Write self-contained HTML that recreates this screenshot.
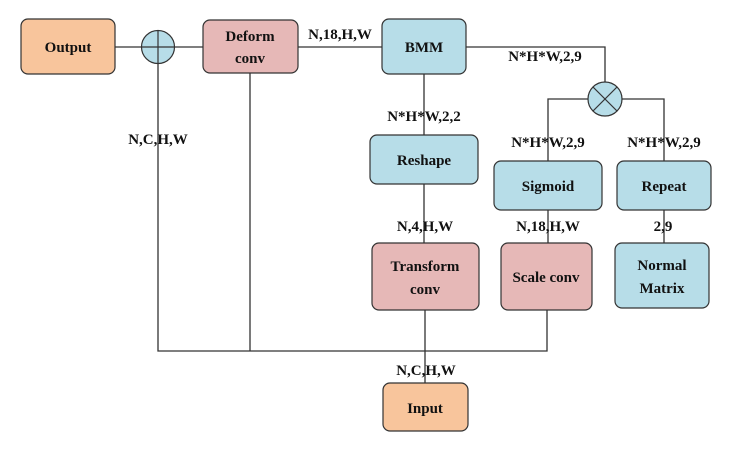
<!DOCTYPE html>
<html><head><style>body{margin:0;background:#fff}svg{display:block}text{font-family:"Liberation Serif",serif;font-weight:bold;font-size:15px;fill:#111}</style></head><body>
<svg width="741" height="459" xmlns="http://www.w3.org/2000/svg">
<g stroke="#333" stroke-width="1.3" fill="none">
<line x1="115" y1="47" x2="203" y2="47"/>
<line x1="298" y1="47" x2="382" y2="47"/>
<polyline points="466,47 605,47 605,82"/>
<polyline points="588,99 548,99 548,161"/>
<polyline points="622,99 664,99 664,161"/>
<line x1="548" y1="210" x2="548" y2="243"/>
<line x1="664" y1="210" x2="664" y2="243"/>
<line x1="424" y1="74" x2="424" y2="135"/>
<line x1="424" y1="184" x2="424" y2="243"/>
<line x1="425" y1="310" x2="425" y2="383"/>
<polyline points="158,63 158,351 547,351 547,310"/>
<line x1="250" y1="73" x2="250" y2="351"/>
</g>
<g stroke="#333" stroke-width="1.2">
<rect x="21" y="19" width="94" height="55" rx="7" fill="#F8C59C"/>
<rect x="203" y="20" width="95" height="53" rx="7" fill="#E6B8B7"/>
<rect x="382" y="19" width="84" height="55" rx="7" fill="#B7DDE8"/>
<rect x="370" y="135" width="108" height="49" rx="7" fill="#B7DDE8"/>
<rect x="372" y="243" width="107" height="67" rx="7" fill="#E6B8B7"/>
<rect x="494" y="161" width="108" height="49" rx="7" fill="#B7DDE8"/>
<rect x="501" y="243" width="91" height="67" rx="7" fill="#E6B8B7"/>
<rect x="617" y="161" width="94" height="49" rx="7" fill="#B7DDE8"/>
<rect x="615" y="243" width="94" height="65" rx="7" fill="#B7DDE8"/>
<rect x="383" y="383" width="85" height="48" rx="7" fill="#F8C59C"/>
<circle cx="158" cy="47" r="16.5" fill="#B7DDE8"/>
<line x1="141.5" y1="47" x2="174.5" y2="47"/>
<line x1="158" y1="30.5" x2="158" y2="63.5"/>
<circle cx="605" cy="99" r="17" fill="#B7DDE8"/>
<line x1="593" y1="87" x2="617" y2="111"/>
<line x1="617" y1="87" x2="593" y2="111"/>
</g>
<g text-anchor="middle">
<text x="68" y="52">Output</text>
<text x="250" y="41">Deform</text><text x="250" y="63">conv</text>
<text x="424" y="52">BMM</text>
<text x="424" y="165">Reshape</text>
<text x="425" y="271">Transform</text><text x="425" y="294">conv</text>
<text x="548" y="191">Sigmoid</text>
<text x="546" y="282">Scale conv</text>
<text x="664" y="191">Repeat</text>
<text x="662" y="270">Normal</text><text x="662" y="293">Matrix</text>
<text x="425" y="413">Input</text>
<text x="158" y="144">N,C,H,W</text>
<text x="340" y="39">N,18,H,W</text>
<text x="545" y="61">N*H*W,2,9</text>
<text x="424" y="121">N*H*W,2,2</text>
<text x="548" y="147">N*H*W,2,9</text>
<text x="664" y="147">N*H*W,2,9</text>
<text x="425" y="231">N,4,H,W</text>
<text x="548" y="231">N,18,H,W</text>
<text x="663" y="231">2,9</text>
<text x="426" y="375">N,C,H,W</text>
</g>
</svg>
</body></html>
